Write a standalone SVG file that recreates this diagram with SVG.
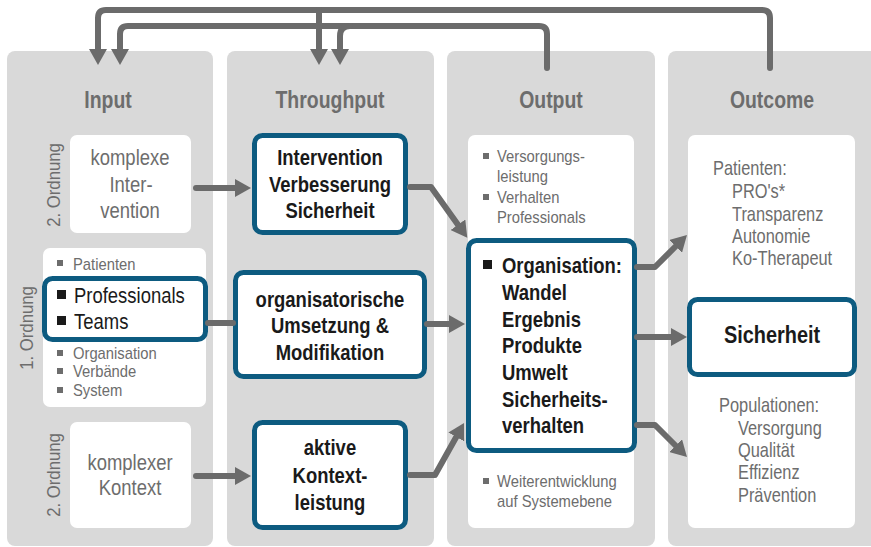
<svg xmlns="http://www.w3.org/2000/svg" width="871" height="547" viewBox="0 0 871 547">
  <style>
    text { font-family: "Liberation Sans", Arial, sans-serif; }
    .panel { fill: #d9d9d9; }
    .box { fill: #ffffff; }
    .hl { fill: #ffffff; stroke: #0d5b80; stroke-width: 5; }
    /* condensed look: glyphs are narrowed horizontally around their anchor */
    .nc { transform-box: fill-box; transform-origin: center; }
    .nl { transform-box: fill-box; transform-origin: left center; }
    .head { font-size: 24px; font-weight: bold; fill: #6d6d6d; text-anchor: middle; transform: scaleX(0.81); }
    .gm { font-size: 22px; fill: #6d6d6d; text-anchor: middle; transform: scaleX(0.84); }
    .bm { font-size: 22px; font-weight: bold; fill: #1a1a1a; text-anchor: middle; transform: scaleX(0.84); }
    .big { font-size: 24px; font-weight: bold; fill: #1a1a1a; text-anchor: middle; transform: scaleX(0.83); }
    .bl { font-size: 22px; font-weight: bold; fill: #1a1a1a; transform: scaleX(0.84); }
    .rl { font-size: 22px; fill: #1a1a1a; transform: scaleX(0.84); }
    .sm { font-size: 17px; fill: #6d6d6d; transform: scaleX(0.87); }
    .oc { font-size: 20px; fill: #6d6d6d; transform: scaleX(0.82); }
    .rot { font-size: 19px; fill: #6d6d6d; text-anchor: middle; }
    .sq { fill: #6d6d6d; }
    .sqb { fill: #1a1a1a; }
    .conn { fill: none; stroke: #6b6b6b; stroke-width: 6; stroke-linecap: round; stroke-linejoin: round; }
  </style>
  <defs>
    <marker id="ah" markerUnits="userSpaceOnUse" markerWidth="16" markerHeight="18" viewBox="0 0 16 18" refX="4" refY="9" orient="auto">
      <path d="M0,0 L16,9 L0,18 z" fill="#6b6b6b"/>
    </marker>
  </defs>

  <!-- column panels -->
  <g id="col-input">
    <rect class="panel" x="7" y="51" width="206" height="495" rx="8"/>
    <text class="head nc" x="108" y="108">Input</text>
  </g>
  <g id="col-throughput">
    <rect class="panel" x="227" y="51" width="207" height="495" rx="8"/>
    <text class="head nc" x="330" y="108">Throughput</text>
  </g>
  <g id="col-output">
    <rect class="panel" x="447" y="51" width="208" height="495" rx="8"/>
    <text class="head nc" x="551" y="108">Output</text>
  </g>
  <g id="col-outcome">
    <rect class="panel" x="668" y="51" width="210" height="495" rx="8"/>
    <text class="head nc" x="772" y="108">Outcome</text>
  </g>

  <!-- order labels -->
  <g id="order-labels">
    <text class="rot" transform="translate(60,185) rotate(-90) scale(0.88,1)">2. Ordnung</text>
    <text class="rot" transform="translate(33,328) rotate(-90) scale(0.88,1)">1. Ordnung</text>
    <text class="rot" transform="translate(60,475) rotate(-90) scale(0.88,1)">2. Ordnung</text>
  </g>

  <!-- input nodes -->
  <g id="komplexe-intervention">
    <rect class="box" x="70" y="135" width="121" height="98" rx="7"/>
    <text class="gm nc" x="130" y="165">komplexe</text>
    <text class="gm nc" x="131" y="192">Inter-</text>
    <text class="gm nc" x="130" y="218">vention</text>
  </g>
  <g id="akteure">
    <rect class="box" x="43" y="248" width="163" height="159" rx="7"/>
    <rect class="sq" x="57" y="260" width="6" height="6"/>
    <text class="sm nl" x="73" y="270">Patienten</text>
    <rect class="sq" x="57" y="350" width="6" height="6"/>
    <text class="sm nl" x="73" y="359">Organisation</text>
    <rect class="sq" x="57" y="368" width="6" height="6"/>
    <text class="sm nl" x="73" y="377">Verbände</text>
    <rect class="sq" x="57" y="387" width="6" height="6"/>
    <text class="sm nl" x="73" y="396">System</text>
  </g>
  <g id="professionals-teams">
    <rect class="hl" x="44.5" y="278.5" width="161" height="61" rx="8"/>
    <rect class="sqb" x="57" y="290" width="9" height="9"/>
    <text class="rl nl" x="74" y="303">Professionals</text>
    <rect class="sqb" x="57" y="316" width="9" height="9"/>
    <text class="rl nl" x="74" y="329">Teams</text>
  </g>
  <g id="komplexer-kontext">
    <rect class="box" x="70" y="422" width="121" height="106" rx="7"/>
    <text class="gm nc" x="130" y="470">komplexer</text>
    <text class="gm nc" x="130" y="495">Kontext</text>
  </g>

  <!-- throughput nodes -->
  <g id="intervention">
    <rect class="hl" x="254.5" y="135.5" width="151" height="97" rx="8"/>
    <text class="bm nc" x="330" y="165">Intervention</text>
    <text class="bm nc" x="330" y="192">Verbesserung</text>
    <text class="bm nc" x="330" y="218">Sicherheit</text>
  </g>
  <g id="organisatorische-umsetzung">
    <rect class="hl" x="235.5" y="272.5" width="189" height="104" rx="8"/>
    <text class="bm nc" x="330" y="307">organisatorische</text>
    <text class="bm nc" x="330" y="333">Umsetzung &amp;</text>
    <text class="bm nc" x="330" y="360">Modifikation</text>
  </g>
  <g id="kontextleistung">
    <rect class="hl" x="254.5" y="422.5" width="151" height="105" rx="8"/>
    <text class="bm nc" x="330" y="455">aktive</text>
    <text class="bm nc" x="330" y="483">Kontext-</text>
    <text class="bm nc" x="330" y="510">leistung</text>
  </g>

  <!-- output nodes -->
  <g id="output-liste">
    <rect class="box" x="468" y="135" width="166" height="393" rx="7"/>
    <rect class="sq" x="483" y="153" width="6" height="6"/>
    <text class="sm nl" x="497" y="162">Versorgungs-</text>
    <text class="sm nl" x="497" y="182">leistung</text>
    <rect class="sq" x="483" y="194" width="6" height="6"/>
    <text class="sm nl" x="497" y="203">Verhalten</text>
    <text class="sm nl" x="497" y="223">Professionals</text>
    <rect class="sq" x="483" y="478" width="6" height="6"/>
    <text class="sm nl" x="497" y="487">Weiterentwicklung</text>
    <text class="sm nl" x="497" y="507">auf Systemebene</text>
  </g>
  <g id="organisation">
    <rect class="hl" x="468.5" y="240.5" width="166" height="210" rx="8"/>
    <rect class="sqb" x="483" y="260" width="9" height="9"/>
    <text class="bl nl" x="502" y="273">Organisation:</text>
    <text class="bl nl" x="502" y="300">Wandel</text>
    <text class="bl nl" x="502" y="327">Ergebnis</text>
    <text class="bl nl" x="502" y="353">Produkte</text>
    <text class="bl nl" x="502" y="380">Umwelt</text>
    <text class="bl nl" x="502" y="407">Sicherheits-</text>
    <text class="bl nl" x="502" y="433">verhalten</text>
  </g>

  <!-- outcome nodes -->
  <g id="outcome-liste">
    <rect class="box" x="688" y="135" width="167" height="393" rx="7"/>
    <text class="oc nl" x="713" y="175">Patienten:</text>
    <text class="oc nl" x="732" y="198">PRO's*</text>
    <text class="oc nl" x="732" y="221">Transparenz</text>
    <text class="oc nl" x="732" y="243">Autonomie</text>
    <text class="oc nl" x="732" y="265">Ko-Therapeut</text>
    <text class="oc nl" x="719" y="412">Populationen:</text>
    <text class="oc nl" x="738" y="435">Versorgung</text>
    <text class="oc nl" x="738" y="457">Qualität</text>
    <text class="oc nl" x="738" y="479">Effizienz</text>
    <text class="oc nl" x="738" y="502">Prävention</text>
  </g>
  <g id="sicherheit">
    <rect class="hl" x="689.5" y="299.5" width="165" height="75" rx="8"/>
    <text class="big nc" x="772" y="343">Sicherheit</text>
  </g>

  <!-- connectors -->
  <g id="connectors">
    <!-- feedback loops across the top -->
    <path class="conn" d="M770,68 V18 Q770,10 762,10 H106 Q98,10 98,18 V53" marker-end="url(#ah)"/>
    <path class="conn" d="M319,10 V53" marker-end="url(#ah)"/>
    <path class="conn" d="M547,68 V34 Q547,26 539,26 H128 Q120,26 120,34 V53" marker-end="url(#ah)"/>
    <path class="conn" d="M350,26 Q340,26 340,36 V53" marker-end="url(#ah)"/>
    <!-- input to throughput -->
    <path class="conn" d="M196,188 H239" marker-end="url(#ah)"/>
    <path class="conn" d="M208,323 H233"/>
    <path class="conn" d="M196,476 H239" marker-end="url(#ah)"/>
    <!-- throughput to output -->
    <path class="conn" d="M410,187 H431 L460.3,228" marker-end="url(#ah)"/>
    <path class="conn" d="M427,324 H453" marker-end="url(#ah)"/>
    <path class="conn" d="M410,475 H435 L458.2,433.5" marker-end="url(#ah)"/>
    <!-- output to outcome -->
    <path class="conn" d="M637,267 H655 L678.5,243.5" marker-end="url(#ah)"/>
    <path class="conn" d="M637,337 H675" marker-end="url(#ah)"/>
    <path class="conn" d="M637,425 H655 L678.5,448.5" marker-end="url(#ah)"/>
  </g>
</svg>
